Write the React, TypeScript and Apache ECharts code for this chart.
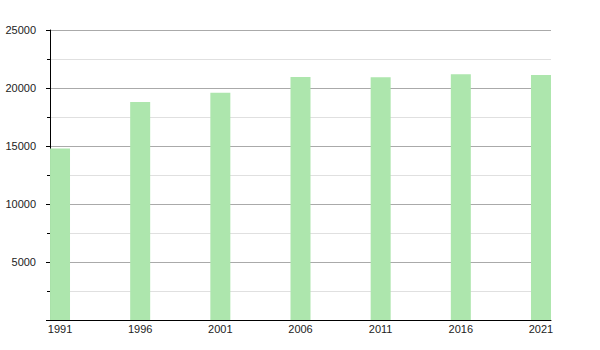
import React, { useEffect, useRef } from "react";
import * as echarts from "echarts";

const years = [1991, 1996, 2001, 2006, 2011, 2016, 2021];
const population = [14780, 18800, 19600, 20950, 20920, 21180, 21120];
const yTicks = [0, 5000, 10000, 15000, 20000, 25000];

export default function App() {
  const ref = useRef<HTMLDivElement>(null);
  useEffect(() => {
    if (!ref.current) return;
    const chart = echarts.init(ref.current, undefined, { renderer: "svg" });
    chart.setOption({
      animation: false,
      grid: { left: 50, top: 30, right: 49, bottom: 30, containLabel: false },
      xAxis: {
        type: "value",
        min: 1990.375,
        max: 2021.625,
        axisLine: { show: true, onZero: false, lineStyle: { color: "#000", width: 1 } },
        axisTick: { show: false },
        splitLine: { show: false },
        axisLabel: {
          customValues: years,
          margin: 3,
          color: "#222",
          fontSize: 11,
          fontFamily: "Liberation Sans, Arial, sans-serif",
          formatter: (v: number) => String(v),
        },
      },
      yAxis: {
        type: "value",
        min: yTicks[0],
        max: yTicks[yTicks.length - 1],
        interval: 5000,
        axisLine: { show: true, lineStyle: { color: "#000", width: 1 } },
        axisTick: { show: true, length: 4, lineStyle: { color: "#000" } },
        minorTick: { show: true, splitNumber: 2, length: 3, lineStyle: { color: "#000" } },
        splitLine: { show: true, lineStyle: { color: "#aaaaaa", width: 1 } },
        minorSplitLine: { show: true, lineStyle: { color: "#e0e0e0", width: 1 } },
        axisLabel: {
          margin: 14,
          color: "#222",
          fontSize: 11,
          fontFamily: "Liberation Sans, Arial, sans-serif",
          formatter: (v: number) => (v === 0 ? "" : String(v)),
        },
      },
      series: [
        {
          type: "bar",
          barWidth: 20,
          data: years.map((y, i) => [y, population[i]]),
          itemStyle: { color: "#ade6ad" },
        },
      ],
    });
    return () => chart.dispose();
  }, []);
  return <div ref={ref} style={{ width: 600, height: 350, position: "absolute", left: 0, top: 0 }} />;
}
